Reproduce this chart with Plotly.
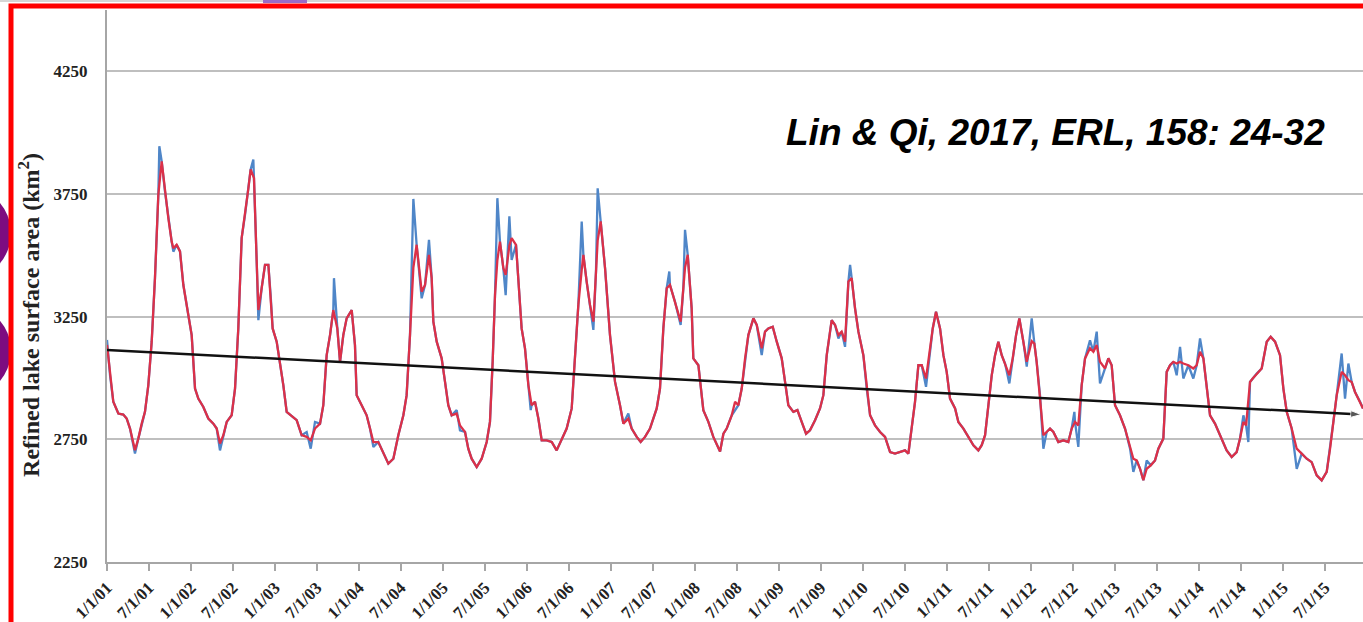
import datetime as dt
import plotly.graph_objects as go

# Refined lake surface area (km2), vertices in decimal years
refined_t = [
    2001.000, 2001.036, 2001.075, 2001.135, 2001.194, 2001.234, 2001.274, 2001.333, 2001.373, 2001.413, 2001.452, 2001.492,
    2001.532, 2001.571, 2001.611, 2001.651, 2001.690, 2001.730, 2001.770, 2001.790, 2001.829, 2001.869, 2001.909, 2001.968,
    2002.008, 2002.048, 2002.087, 2002.147, 2002.206, 2002.266, 2002.306, 2002.345, 2002.385, 2002.425, 2002.484, 2002.524,
    2002.563, 2002.603, 2002.643, 2002.683, 2002.710, 2002.750, 2002.782, 2002.802, 2002.841, 2002.881, 2002.921, 2002.948, 2002.972,
    2003.020, 2003.060, 2003.099, 2003.139, 2003.198, 2003.258, 2003.317, 2003.377, 2003.425, 2003.476, 2003.536, 2003.575,
    2003.615, 2003.655, 2003.694, 2003.742, 2003.774, 2003.813, 2003.853, 2003.913, 2003.952, 2003.972,
    2004.032, 2004.091, 2004.131, 2004.171, 2004.230, 2004.290, 2004.349, 2004.409, 2004.468, 2004.528, 2004.567, 2004.607,
    2004.647, 2004.686, 2004.746, 2004.786, 2004.833, 2004.865, 2004.885, 2004.925, 2004.984,
    2005.024, 2005.063, 2005.103, 2005.163, 2005.202, 2005.262, 2005.301, 2005.341, 2005.401, 2005.460, 2005.520, 2005.559,
    2005.591, 2005.619, 2005.647, 2005.678, 2005.718, 2005.746, 2005.790, 2005.817, 2005.869, 2005.897, 2005.936, 2005.976,
    2006.016, 2006.055, 2006.095, 2006.135, 2006.175, 2006.234, 2006.294, 2006.353, 2006.413, 2006.472, 2006.532, 2006.571,
    2006.611, 2006.651, 2006.671, 2006.710, 2006.750, 2006.790, 2006.821, 2006.841, 2006.877, 2006.929, 2006.988,
    2007.048, 2007.107, 2007.147, 2007.206, 2007.246, 2007.306, 2007.353, 2007.405, 2007.464, 2007.544, 2007.583, 2007.623,
    2007.663, 2007.702, 2007.762, 2007.829, 2007.861, 2007.881, 2007.913, 2007.960, 2007.980,
    2008.040, 2008.099, 2008.159, 2008.218, 2008.298, 2008.338, 2008.377, 2008.437, 2008.477, 2008.516, 2008.556, 2008.596,
    2008.635, 2008.695, 2008.735, 2008.794, 2008.834, 2008.873, 2008.925, 2008.973,
    2009.032, 2009.072, 2009.111, 2009.171, 2009.219, 2009.270, 2009.322, 2009.369, 2009.429, 2009.488, 2009.528, 2009.568,
    2009.627, 2009.667, 2009.707, 2009.746, 2009.786, 2009.826, 2009.865, 2009.905, 2009.945,
    2010.004, 2010.044, 2010.084, 2010.143, 2010.203, 2010.262, 2010.322, 2010.381, 2010.441, 2010.500, 2010.540, 2010.580,
    2010.619, 2010.659, 2010.699, 2010.750, 2010.790, 2010.830, 2010.869, 2010.917, 2010.957, 2010.996,
    2011.036, 2011.096, 2011.135, 2011.195, 2011.254, 2011.314, 2011.373, 2011.413, 2011.453, 2011.492, 2011.532, 2011.572,
    2011.611, 2011.651, 2011.691, 2011.742, 2011.782, 2011.822, 2011.861, 2011.909, 2011.949,
    2012.008, 2012.040, 2012.067, 2012.107, 2012.147, 2012.186, 2012.226, 2012.266, 2012.325, 2012.385, 2012.444, 2012.484,
    2012.524, 2012.563, 2012.603, 2012.643, 2012.702, 2012.742, 2012.782, 2012.821, 2012.881, 2012.921, 2012.960,
    2013.000, 2013.059, 2013.119, 2013.179, 2013.218, 2013.258, 2013.298, 2013.337, 2013.377, 2013.425, 2013.476, 2013.516,
    2013.575, 2013.615, 2013.655, 2013.694, 2013.734, 2013.774, 2013.813, 2013.873, 2013.932, 2013.972,
    2014.012, 2014.052, 2014.091, 2014.131, 2014.190, 2014.250, 2014.329, 2014.389, 2014.448, 2014.488, 2014.528, 2014.560,
    2014.607, 2014.639, 2014.687, 2014.746, 2014.806, 2014.853, 2014.905, 2014.964,
    2015.004, 2015.044, 2015.103, 2015.163, 2015.222, 2015.282, 2015.341, 2015.401, 2015.460, 2015.520, 2015.560, 2015.599,
    2015.639, 2015.698, 2015.738, 2015.778, 2015.817, 2015.857, 2015.917, 2015.952,
]
refined_area = [
    3135, 3012, 2903, 2855, 2851, 2835, 2794, 2706, 2753, 2814, 2862, 2971,
    3148, 3407, 3747, 3883, 3761, 3652, 3556, 3529, 3543, 3516, 3379, 3257,
    3175, 2957, 2916, 2882, 2835, 2814, 2794, 2733, 2767, 2821, 2848, 2957,
    3202, 3570, 3665, 3773, 3850, 3815, 3475, 3277, 3366, 3461, 3461, 3338, 3202,
    3148, 3066, 2971, 2862, 2845, 2828, 2767, 2760, 2746, 2794, 2814, 2889,
    3093, 3175, 3277, 3202, 3066, 3175, 3243, 3277, 3134, 2930,
    2889, 2848, 2794, 2739, 2739, 2698, 2651, 2671, 2767, 2848, 2930, 3175,
    3450, 3543, 3352, 3379, 3502, 3407, 3230, 3148, 3080,
    2984, 2889, 2848, 2855, 2807, 2780, 2712, 2671, 2637, 2671, 2739, 2821,
    3066, 3338, 3480, 3556, 3448, 3420, 3540, 3570, 3543, 3407, 3202, 3121,
    2971, 2889, 2903, 2835, 2746, 2746, 2739, 2705, 2753, 2794, 2876, 3066,
    3298, 3440, 3502, 3393, 3298, 3230, 3434, 3560, 3638, 3448, 3175,
    2984, 2889, 2814, 2834, 2794, 2760, 2739, 2760, 2794, 2876, 2957, 3202,
    3366, 3379, 3311, 3230, 3366, 3450, 3502, 3284, 3080,
    3052, 2869, 2821, 2760, 2700, 2773, 2794, 2848, 2903, 2889, 2957, 3080,
    3175, 3243, 3216, 3121, 3189, 3202, 3209, 3148,
    3080, 2984, 2889, 2862, 2869, 2821, 2773, 2787, 2828, 2876, 2930, 3093,
    3236, 3216, 3175, 3189, 3148, 3393, 3407, 3284, 3189,
    3093, 2957, 2848, 2807, 2780, 2760, 2698, 2692, 2698, 2705, 2692, 2807,
    2903, 3052, 3052, 2998, 3093, 3202, 3270, 3202, 3093, 3025,
    2916, 2876, 2821, 2794, 2760, 2726, 2705, 2726, 2767, 2889, 3011, 3093,
    3148, 3093, 3059, 3011, 3080, 3175, 3243, 3148, 3066,
    3150, 3140, 3066, 2930, 2767, 2780, 2794, 2780, 2739, 2746, 2739, 2794,
    2821, 2807, 2971, 3080, 3121, 3107, 3134, 3066, 3039, 3080, 3052,
    2889, 2848, 2794, 2712, 2671, 2664, 2630, 2583, 2630, 2644, 2664, 2712,
    2753, 3025, 3052, 3066, 3059, 3066, 3059, 3052, 3039, 3052,
    3107, 3080, 2971, 2848, 2814, 2767, 2705, 2678, 2698, 2753, 2821, 2807,
    2984, 2998, 3018, 3039, 3148, 3168, 3148, 3093,
    2957, 2862, 2794, 2712, 2692, 2671, 2657, 2603, 2583, 2617, 2712, 2821,
    2930, 3025, 3011, 2991, 2984, 2943, 2903, 2876,
]

# Raw (unrefined) readings where they depart from the refined curve
raw_t = [
    2001.000, 2001.333, 2001.623, 2001.790, 2002.345, 2002.742, 2002.802, 2003.377, 2003.425, 2003.476,
    2003.702, 2004.171, 2004.647, 2004.746, 2004.833, 2005.163, 2005.202, 2005.647, 2005.746, 2005.790,
    2005.817, 2006.044, 2006.651, 2006.790, 2006.841, 2007.206, 2007.694, 2007.829, 2007.881, 2008.477,
    2008.794, 2009.707, 2009.786, 2009.846, 2010.750, 2011.742, 2011.949, 2012.008, 2012.147, 2012.516,
    2012.563, 2012.702, 2012.782, 2012.821, 2013.218, 2013.377, 2013.734, 2013.774, 2013.813, 2013.932,
    2014.012, 2014.528, 2014.587, 2015.163, 2015.698, 2015.738, 2015.778,
]
raw_area = [
    3155, 2692, 3945, 3515, 2705, 3890, 3236, 2780, 2712, 2821,
    3407, 2719, 3730, 3325, 3563, 2869, 2787, 3733, 3338, 3659,
    3481, 2869, 3638, 3196, 3773, 2855, 3434, 3216, 3604, 2869,
    3093, 3161, 3127, 3461, 2964, 2978, 3046, 3243, 2712, 2862,
    2719, 3154, 3189, 2978, 2617, 2664, 3011, 3127, 2998, 2998,
    3161, 2848, 2739, 2630, 3100, 2916, 3059,
]

# Linear trend endpoints
trend_t = [2001.000, 2015.930]
trend_area = [3114, 2851]

tick_labels = [
    "1/1/01", "7/1/01", "1/1/02", "7/1/02", "1/1/03", "7/1/03", "1/1/04", "7/1/04",
    "1/1/05", "7/1/05", "1/1/06", "7/1/06", "1/1/07", "7/1/07", "1/1/08", "7/1/08",
    "1/1/09", "7/1/09", "1/1/10", "7/1/10", "1/1/11", "7/1/11", "1/1/12", "7/1/12",
    "1/1/13", "7/1/13", "1/1/14", "7/1/14", "1/1/15", "7/1/15",
]
y_ticks = [2250, 2750, 3250, 3750, 4250]


def label_to_year(label):
    m, d, y = (int(p) for p in label.split("/"))
    day = dt.date(2000 + y, m, d)
    start = dt.date(2000 + y, 1, 1)
    length = (dt.date(2001 + y, 1, 1) - start).days
    return day.year + (day - start).days / length


tick_pos = [label_to_year(s) for s in tick_labels]

# Raw series: refined curve with the raw departures substituted in
raw_map = {round(t, 3): v for t, v in zip(refined_t, refined_area)}
raw_map.update({round(t, 3): v for t, v in zip(raw_t, raw_area)})
raw_x = sorted(raw_map)
raw_y = [raw_map[t] for t in raw_x]

BLUE = "#4f86c8"
RED = "#dc3048"
GRID = "#bfbfbf"
AXIS = "#a6a6a6"
PURPLE = "#7d0c80"
tick_font = dict(family="Liberation Serif", size=17, color="#222222", weight="bold")

# pixel helpers for page furniture around the plot area (plot spans x 107..1363, y 10..564)
def px(x):
    return (x - 107) / 1256


def py(y):
    return (564 - y) / 554


fig = go.Figure()
fig.add_trace(go.Scatter(x=raw_x, y=raw_y, mode="lines",
                         line=dict(color=BLUE, width=2.3), name="Raw"))
fig.add_trace(go.Scatter(x=refined_t, y=refined_area, mode="lines",
                         line=dict(color=RED, width=2.3), name="Refined"))
fig.add_trace(go.Scatter(x=trend_t, y=trend_area, mode="lines+markers",
                         line=dict(color="#111111", width=2.5),
                         marker=dict(symbol="arrow", size=[0, 11], angleref="previous",
                                     color="#111111"),
                         cliponaxis=False, name="Trend"))

fig.update_layout(
    width=1363, height=622,
    margin=dict(l=107, r=0, t=10, b=58),
    paper_bgcolor="white", plot_bgcolor="white",
    showlegend=False,
    xaxis=dict(range=[2001.0, 2015.952], tickvals=tick_pos, ticktext=tick_labels,
               tickangle=-45, tickfont=tick_font, showgrid=False, zeroline=False,
               showline=True, linecolor=AXIS, linewidth=2,
               ticks="outside", ticklen=7, tickwidth=2, tickcolor=AXIS),
    yaxis=dict(range=[2250, 4500], tickvals=y_ticks, ticktext=[str(v) for v in y_ticks],
               tickfont=tick_font, showgrid=True, gridcolor=GRID, gridwidth=2,
               zeroline=False, showline=True, linecolor=AXIS, linewidth=2,
               ticks="", ticklabelstandoff=14),
    annotations=[
        dict(text="Refined lake surface area (km<sup>2</sup>)", xref="paper", yref="paper",
             x=px(29), y=py(316), xanchor="center", yanchor="middle", textangle=-90,
             showarrow=False,
             font=dict(family="Liberation Serif", size=24, color="#222222", weight="bold")),
        dict(text="Lin & Qi, 2017, ERL, 158: 24-32", xref="paper", yref="paper",
             x=px(1055), y=py(133), xanchor="center", yanchor="middle", showarrow=False,
             font=dict(family="Liberation Sans", size=37, color="black",
                       weight="bold", style="italic")),
    ],
    shapes=[
        dict(type="circle", xref="paper", yref="paper", layer="above",
             x0=px(-83), x1=px(11), y0=py(281), y1=py(187),
             fillcolor=PURPLE, line=dict(width=0)),
        dict(type="circle", xref="paper", yref="paper", layer="above",
             x0=px(-83), x1=px(11), y0=py(399), y1=py(305),
             fillcolor=PURPLE, line=dict(width=0)),
        dict(type="line", xref="paper", yref="paper", layer="above",
             x0=px(0), x1=px(480), y0=py(1), y1=py(1),
             line=dict(color="#c8c8c8", width=1.5)),
        dict(type="rect", xref="paper", yref="paper", layer="above",
             x0=px(263), x1=px(307), y0=py(3), y1=py(-2),
             fillcolor="#9a6bc8", line=dict(width=0)),
        dict(type="rect", xref="paper", yref="paper", layer="above",
             x0=px(11), x1=1.05, y0=-0.3, y1=py(6),
             line=dict(color="#ff0000", width=5)),
    ],
)

fig.write_html("out.html")
